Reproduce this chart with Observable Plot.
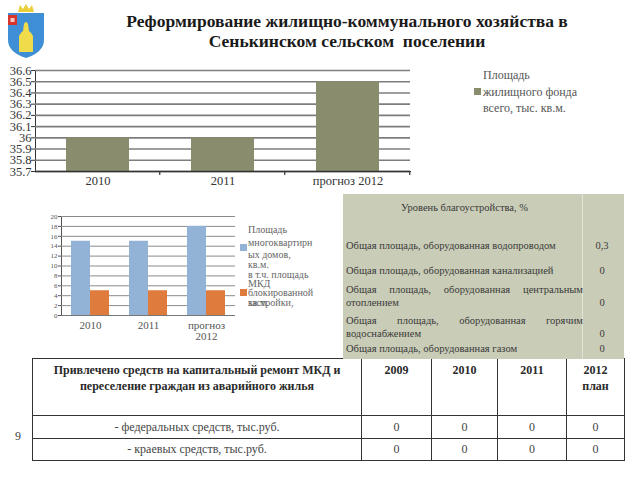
<!DOCTYPE html>
<html><head><meta charset="utf-8">
<script src="https://cdn.jsdelivr.net/npm/d3@7"></script>
<script src="https://cdn.jsdelivr.net/npm/@observablehq/plot@0.6"></script>
<style>
html,body{margin:0;padding:0}
body{width:640px;height:480px;position:relative;background:#fff;font-family:"Liberation Serif","Tinos","Times New Roman","DejaVu Serif","Noto Serif",serif;overflow:hidden;color:#333}
.abs{position:absolute}
#title{left:97px;top:11px;width:500px;text-align:center;font-weight:bold;font-size:17.5px;line-height:20px;color:#1a1a1a}
.leg{font-size:12px;color:#555;line-height:16.5px;white-space:nowrap}
.leg2{font-size:10px;color:#666;line-height:10px;white-space:nowrap}
.sw{width:7px;height:7px}
#c2 svg [aria-label^="y-axis"] text{font-size:7px}
#amen{left:343px;top:194px;width:281px;height:165px;background:#c9ccb6;z-index:2;font-size:10.5px;color:#3a3a3a}
#amen .ln{position:absolute;left:3px;width:237px;height:13px;line-height:13px;white-space:nowrap}
#amen .just{text-align:justify;text-align-last:justify}
#amen .val{position:absolute;left:239px;width:40px;text-align:center;height:13px;line-height:13px}
#amen .div{position:absolute;left:239px;top:0;width:1px;height:165px;background:#e2e4d6}
#fund{left:32px;top:358px;border-collapse:collapse;table-layout:fixed;font-size:12px;color:#444}
#fund td{border:1.3px solid #333;padding:0;text-align:center}
#fund .h td{height:53px;vertical-align:top;font-weight:bold;line-height:16px;padding-top:3px;color:#2a2a2a}
#fund .r td{vertical-align:middle}
</style></head>
<body>
<svg class="abs" style="left:4px;top:2px" width="44" height="58" viewBox="0 0 44 58">
  <path d="M14 10 L16 3 L19 7 L22 2 L25 7 L28 3 L30 10 Z" fill="#e8cf3a"/>
  <path d="M4 11 L40 11 L40 38 Q40 50 22 56 Q4 50 4 38 Z" fill="#3f8fd6"/>
  <rect x="4" y="13" width="9" height="10" fill="#d9342b"/>
  <rect x="6.5" y="16" width="4" height="4" fill="#f1c9c4"/>
  <path d="M15 50 L15 34 Q17 30 19 29 L20 22 Q22 18 24 22 L25 29 Q27 30 29 34 L29 50 Z" fill="#f0dc4a"/>
</svg>
<div id="title" class="abs">Реформирование жилищно-коммунального хозяйства в<br>Сенькинском сельском&nbsp; поселении</div>
<div id="c1" class="abs" style="left:0;top:55px"></div>
<div id="l1" class="abs" style="left:0;top:0"></div>
<div id="c2" class="abs" style="left:0;top:200px"></div>
<div id="l2" class="abs" style="left:0;top:0"></div>
<div id="amen" class="abs"></div>
<table id="fund" class="abs"></table>
<div class="abs" style="left:15px;top:429px;font-size:12px;color:#444">9</div>
<script>
// ---------- data ----------
const years1 = ["2010", "2011", "прогноз 2012"];
const housingArea = [36, 36, 36.5];
const yTicks1 = [35.7, 35.8, 35.9, 36, 36.1, 36.2, 36.3, 36.4, 36.5, 36.6];
const legend1 = ["Площадь", "жилищного фонда", "всего, тыс. кв.м."];

const years2 = ["2010", "2011", "прогноз 2012"];
const xLabels2 = ["2010", "2011", "прогноз\n2012"];
const series2 = ["Площадь многоквартирных домов, кв.м.", "в т.ч. площадь МКД блокированной застройки, кв.м."];
const apartmentArea = [15, 15, 18];
const blockedArea = [5, 5, 5];
const yTicks2 = [0, 2, 4, 6, 8, 10, 12, 14, 16, 18, 20];
const legend2a = ["Площадь", "многоквартирн", "ых домов,", "кв.м."];
const legend2b = ["в т.ч. площадь", "МКД", "блокированной", "застройки,"];

const amenityHeader = "Уровень благоустройства, %";
const amenityRows = [
  ["Общая площадь, оборудованная водопроводом"],
  ["Общая площадь, оборудованная канализацией"],
  ["Общая площадь, оборудованная центральным", "отоплением"],
  ["Общая площадь, оборудованная горячим", "водоснабжением"],
  ["Общая площадь, оборудованная газом"]
];
const amenityValues = ["0,3", "0", "0", "0", "0"];

const fundHeader = ["Привлечено средств на капитальный ремонт МКД и", "переселение граждан из аварийного жилья"];
const fundYears = [["2009"], ["2010"], ["2011"], ["2012", "план"]];
const fundRows = ["- федеральных средств, тыс.руб.", "- краевых средств, тыс.руб."];
const federalFunds = [0, 0, 0, 0];
const regionalFunds = [0, 0, 0, 0];

// ---------- colours ----------
const olive = "#8a8d6d", blue = "#93b3d6", orange = "#df7b3c";
const serifFont = "Liberation Serif, Tinos, Times New Roman, DejaVu Serif, Noto Serif, serif";

// ---------- chart 1 ----------
const data1 = years1.map((y, i) => ({year: y, value: housingArea[i]}));
const pOut = 0.25;
function slotTicks(cats) {
  return (index, scales, values, dim) => {
    const x = scales.x;
    const step = typeof x.step === "function" ? x.step() : (x(cats[1]) - x(cats[0]));
    const y0 = dim.height - dim.marginBottom;
    const g = d3.create("svg:g").attr("stroke", "#333").attr("stroke-width", 1.2);
    cats.forEach(c => {
      const xb = x(c) + step * (1 - pOut);
      g.append("line").attr("x1", xb).attr("x2", xb).attr("y1", y0).attr("y2", y0 + 4);
    });
    return g.node();
  };
}
const chart1 = Plot.plot({
  width: 415, height: 140,
  marginLeft: 35, marginRight: 5, marginTop: 15, marginBottom: 24,
  style: {fontFamily: serifFont, fontSize: "12.5px", color: "#333", background: "transparent"},
  x: {domain: years1, paddingInner: 0.5, paddingOuter: pOut, label: null, tickSize: 0, tickPadding: 5, line: true},
  y: {domain: [yTicks1[0], yTicks1[yTicks1.length - 1]], ticks: yTicks1, tickFormat: d => String(d), tickSize: 4, tickPadding: 0, label: null, line: true},
  marks: [
    Plot.ruleY(yTicks1, {stroke: "#7d7d7d", strokeWidth: 1.6}),
    Plot.barY(data1, {x: "year", y1: () => yTicks1[0], y2: "value", fill: olive}),
    Plot.ruleY([yTicks1[0]], {stroke: "#333", strokeWidth: 1.3}),
    slotTicks(years1)
  ]
});
document.getElementById("c1").append(chart1);

const l1 = document.getElementById("l1");
legend1.forEach((t, i) => {
  const d = document.createElement("div");
  d.className = "abs leg"; d.style.left = "483px"; d.style.top = (67 + i * 16.5) + "px"; d.textContent = t;
  l1.append(d);
});
{ const s = document.createElement("div"); s.className = "abs sw"; s.style.left = "474px"; s.style.top = "88px"; s.style.background = olive; l1.append(s); }

// ---------- chart 2 ----------
const data2 = [];
years2.forEach((y, i) => {
  data2.push({year: y, series: series2[0], value: apartmentArea[i]});
  data2.push({year: y, series: series2[1], value: blockedArea[i]});
});
const chart2 = Plot.plot({
  width: 240, height: 150,
  marginLeft: 61, marginRight: 5, marginTop: 16, marginBottom: 35,
  style: {fontFamily: serifFont, fontSize: "11px", color: "#555", background: "transparent"},
  fx: {domain: years2, padding: 0, label: null, tickSize: 0, tickPadding: 6, tickFormat: d => xLabels2[years2.indexOf(d)]},
  x: {domain: series2, paddingInner: 0, paddingOuter: 0.49, axis: null},
  y: {domain: [yTicks2[0], yTicks2[yTicks2.length - 1]], ticks: yTicks2, tickSize: 3, tickPadding: 1, label: null, line: true},
  color: {domain: series2, range: [blue, orange]},
  marks: [
    Plot.ruleY(yTicks2, {stroke: "#8a8a8a", strokeWidth: 1}),
    Plot.barY(data2, {fx: "year", x: "series", y: "value", fill: "series"}),
    Plot.ruleY([0], {stroke: "#777", strokeWidth: 1})
  ]
});
document.getElementById("c2").append(chart2);

const l2 = document.getElementById("l2");
const l2tops = [225, 238, 250, 260, 270, 279];
legend2a.concat(legend2b.slice(0, 2)).forEach((t, i) => {
  const d = document.createElement("div");
  d.className = "abs leg2"; d.style.left = "248px"; d.style.top = l2tops[i] + "px"; d.textContent = t;
  l2.append(d);
});
[["блокированной", 288], ["застройки,", 298], ["кв.м.", 298]].forEach(([t, y]) => {
  const d = document.createElement("div");
  d.className = "abs leg2"; d.style.left = "248px"; d.style.top = y + "px"; d.textContent = t;
  l2.append(d);
});
[[blue, 244], [orange, 289]].forEach(([c, y]) => {
  const s = document.createElement("div"); s.className = "abs sw"; s.style.left = "240px"; s.style.top = y + "px"; s.style.background = c; l2.append(s);
});

// ---------- amenity table ----------
const amen = document.getElementById("amen");
amen.innerHTML = '<div class="div"></div>';
{ const h = document.createElement("div"); h.className = "ln"; h.style.top = "7px"; h.style.textAlign = "center"; h.textContent = amenityHeader; amen.append(h); }
const rowTops = [[51], [76], [95, 108], [126, 139], [154]];
amenityRows.forEach((lines, r) => {
  lines.forEach((t, k) => {
    const d = document.createElement("div");
    d.className = "ln" + (lines.length > 1 && k === 0 ? " just" : "");
    d.style.top = (rowTops[r][k] - 6.5) + "px"; d.textContent = t; amen.append(d);
  });
  const v = document.createElement("div");
  v.className = "val"; v.style.top = (rowTops[r][rowTops[r].length - 1] - 6.5) + "px"; v.textContent = amenityValues[r];
  amen.append(v);
});

// ---------- funding table ----------
const fund = document.getElementById("fund");
const colW = [329, 70, 66, 69, 58];
let html = "<colgroup>" + colW.map(w => `<col style="width:${w}px">`).join("") + "</colgroup>";
html += '<tr class="h"><td>' + fundHeader.join("<br>") + "</td>" + fundYears.map(y => "<td>" + y.join("<br>") + "</td>").join("") + "</tr>";
[federalFunds, regionalFunds].forEach((vals, r) => {
  html += `<tr class="r"><td style="height:${r === 0 ? 22 : 21}px">${fundRows[r]}</td>` + vals.map(v => `<td>${v}</td>`).join("") + "</tr>";
});
fund.innerHTML = html;
fund.style.width = colW.reduce((a, b) => a + b, 0) + "px";
</script>
</body></html>
